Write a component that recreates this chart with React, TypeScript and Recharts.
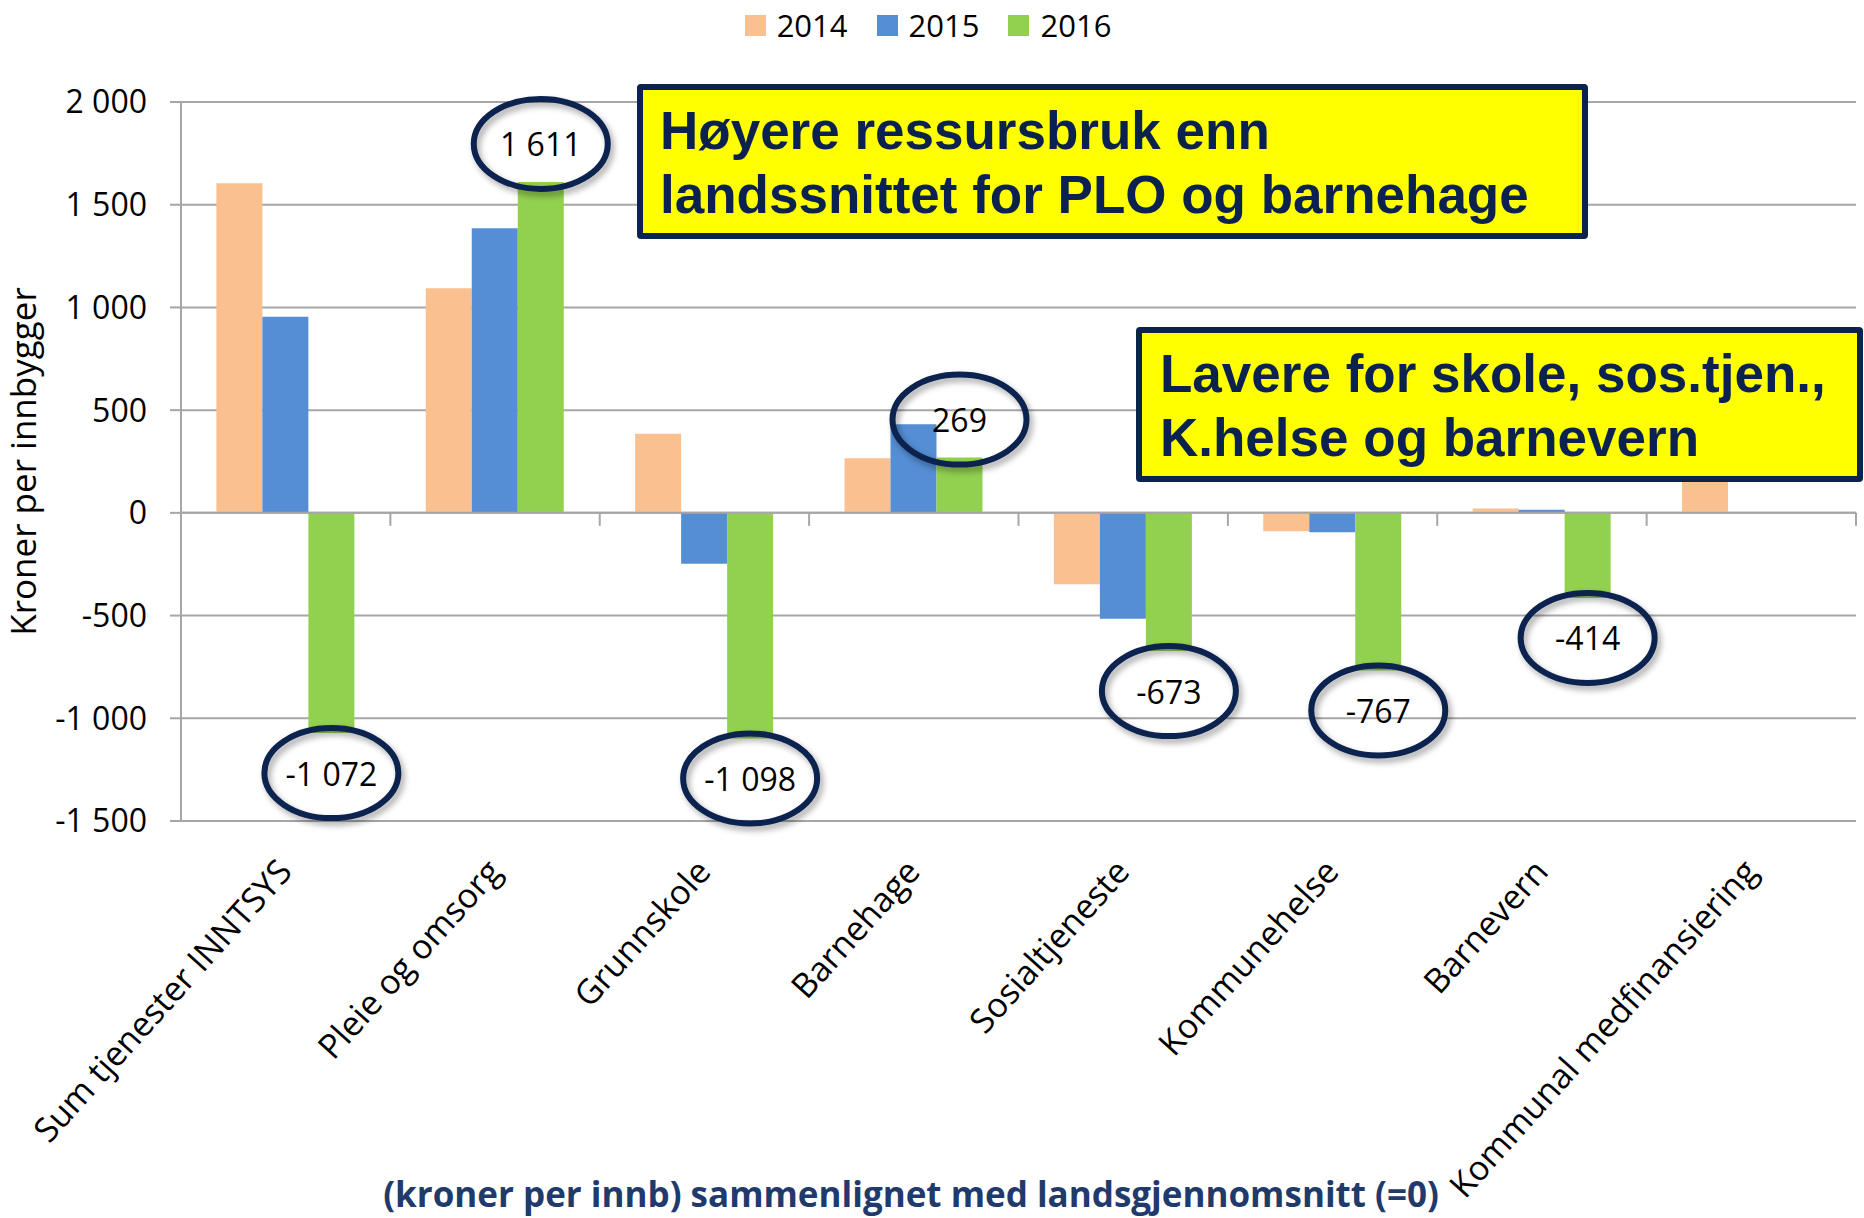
import React from 'react';
import { BarChart, Bar, XAxis, YAxis, CartesianGrid, Legend, ReferenceLine, LabelList } from 'recharts';

const categories = [
  'Sum tjenester INNTSYS',
  'Pleie og omsorg',
  'Grunnskole',
  'Barnehage',
  'Sosialtjeneste',
  'Kommunehelse',
  'Barnevern',
  'Kommunal medfinansiering',
];
const values2014 = [1605, 1093, 385, 266, -347, -89, 21, 210];
const values2015 = [955, 1386, -248, 431, -515, -95, 15, null];
const values2016 = [-1072, 1611, -1098, 269, -673, -767, -414, null];
const yTicks = [-1500, -1000, -500, 0, 500, 1000, 1500, 2000];

const seriesKeys = ['2014', '2015', '2016'];
const seriesColors = ['#fac090', '#558ed5', '#92d050'];

const chartData = categories.map((name, i) => ({
  name,
  '2014': values2014[i],
  '2015': values2015[i],
  '2016': values2016[i],
}));

const FONT = "'Open Sans', 'Noto Sans', sans-serif";
const GRID = '#a6a6a6';
const NAVY = '#0c2350';

// norsk tusenskille: "1 611", "-1 072"
const fmt = (n: number) => {
  const s = Math.abs(n).toString().replace(/\B(?=(\d{3})+(?!\d))/g, '\u00a0');
  return (n < 0 ? '-' : '') + s;
};

const XTick = (props: any) => {
  const { x, y, payload } = props;
  const tx = x + 8;
  const ty = y + 52;
  return (
    <text x={tx} y={ty} transform={`rotate(-48 ${tx} ${ty})`} textAnchor="end" fontSize={34} fill="#000">
      {payload.value}
    </text>
  );
};

const YTitle = (props: any) => {
  const { viewBox } = props;
  const cx = viewBox.x + 36;
  const cy = viewBox.y + viewBox.height / 2;
  return (
    <text x={cx} y={cy} transform={`rotate(-90 ${cx} ${cy})`} textAnchor="middle" fontSize={35} fill="#000">
      Kroner per innbygger
    </text>
  );
};

// nullinja med skillestreker mellom kategoriene
const ZeroLine = (props: any) => {
  const { x1, y1, x2, y2 } = props;
  const step = (x2 - x1) / categories.length;
  return (
    <g>
      <line x1={x1} y1={y1} x2={x2} y2={y2} stroke={GRID} strokeWidth={2} />
      {categories.map((c, i) => {
        const x = x1 + step * (i + 1);
        return <line key={c} x1={x} x2={x} y1={y1} y2={y1 + 13} stroke={GRID} strokeWidth={2} />;
      })}
    </g>
  );
};

const CircleLabel = (props: any) => {
  const { x, y, width, height, value } = props;
  if (value === null || value === undefined) return null;
  const cx = x + width / 2;
  const end = value >= 0 ? Math.min(y, y + height) : Math.max(y, y + height);
  const cy = value >= 0 ? end - 38 : end + 40;
  return (
    <g>
      <ellipse
        cx={cx}
        cy={cy}
        rx={67}
        ry={45}
        fill="none"
        stroke={NAVY}
        strokeWidth={6}
        style={{ filter: 'drop-shadow(3px 4px 3px rgba(0,0,0,0.35))' }}
      />
      <text x={cx} y={cy} textAnchor="middle" dominantBaseline="central" fontSize={32} fill="#000">
        {fmt(value)}
      </text>
    </g>
  );
};

const LegendContent = (props: any) => {
  const { payload } = props;
  return (
    <div style={{ height: 50, display: 'flex', justifyContent: 'center', alignItems: 'center', fontSize: 31, color: '#000' }}>
      {(payload || []).map((p: any, i: number) => (
        <span key={p.value} style={{ display: 'flex', alignItems: 'center', marginLeft: i === 0 ? 0 : 29 }}>
          <span style={{ width: 21, height: 21, background: p.color, marginRight: 11, display: 'inline-block' }} />
          {p.value}
        </span>
      ))}
    </div>
  );
};

const boxStyle: React.CSSProperties = {
  position: 'absolute',
  boxSizing: 'border-box',
  background: '#ffff00',
  border: `6px solid ${NAVY}`,
  borderRadius: 4,
  fontFamily: "'Liberation Sans', Arial, sans-serif",
  fontWeight: 700,
  fontSize: 53,
  lineHeight: '64px',
  color: '#0b2150',
  whiteSpace: 'nowrap',
  zIndex: 2,
};

export default function App() {
  return (
    <div style={{ position: 'relative', width: 1864, height: 1218, background: '#fff', fontFamily: FONT }}>
      <style>{'body{margin:0}'}</style>
      <BarChart
        width={1864}
        height={1218}
        data={chartData}
        margin={{ top: 52, right: 8, bottom: 0, left: 0 }}
        barCategoryGap="16.9%"
        barGap={0}
      >
        <Legend verticalAlign="top" align="center" wrapperStyle={{ top: 0 }} content={<LegendContent />} />
        <CartesianGrid vertical={false} stroke={GRID} strokeWidth={2} />
        <XAxis
          dataKey="name"
          axisLine={false}
          tickLine={false}
          tickSize={0}
          tickMargin={0}
          interval={0}
          height={397}
          tick={<XTick />}
        />
        <YAxis
          width={181}
          domain={[-1500, 2000]}
          ticks={yTicks}
          interval={0}
          tickFormatter={fmt}
          tickSize={11}
          tickMargin={23}
          axisLine={{ stroke: GRID, strokeWidth: 2 }}
          tickLine={{ stroke: GRID, strokeWidth: 2 }}
          tick={{ fontSize: 32, fill: '#000' }}
          label={<YTitle />}
        />
        {seriesKeys.map((k, i) => (
          <Bar key={k} dataKey={k} fill={seriesColors[i]} isAnimationActive={false}>
            {k === '2016' && <LabelList dataKey={k} content={<CircleLabel />} />}
          </Bar>
        ))}
        <ReferenceLine y={0} shape={<ZeroLine />} />
      </BarChart>

      <div style={{ ...boxStyle, left: 637, top: 84, width: 951, height: 155, paddingTop: 9, paddingLeft: 17 }}>
        Høyere ressursbruk enn
        <br />
        landssnittet for PLO og barnehage
      </div>
      <div style={{ ...boxStyle, left: 1136, top: 327, width: 727, height: 155, paddingTop: 9, paddingLeft: 18 }}>
        Lavere for skole, sos.tjen.,
        <br />
        K.helse og barnevern
      </div>

      <div
        style={{
          position: 'absolute',
          left: 0,
          width: 1822,
          top: 1174,
          textAlign: 'center',
          fontSize: 35,
          lineHeight: '40px',
          fontWeight: 700,
          color: '#1f3a6b',
          whiteSpace: 'nowrap',
        }}
      >
        (kroner per innb) sammenlignet med landsgjennomsnitt (=0)
      </div>
    </div>
  );
}
